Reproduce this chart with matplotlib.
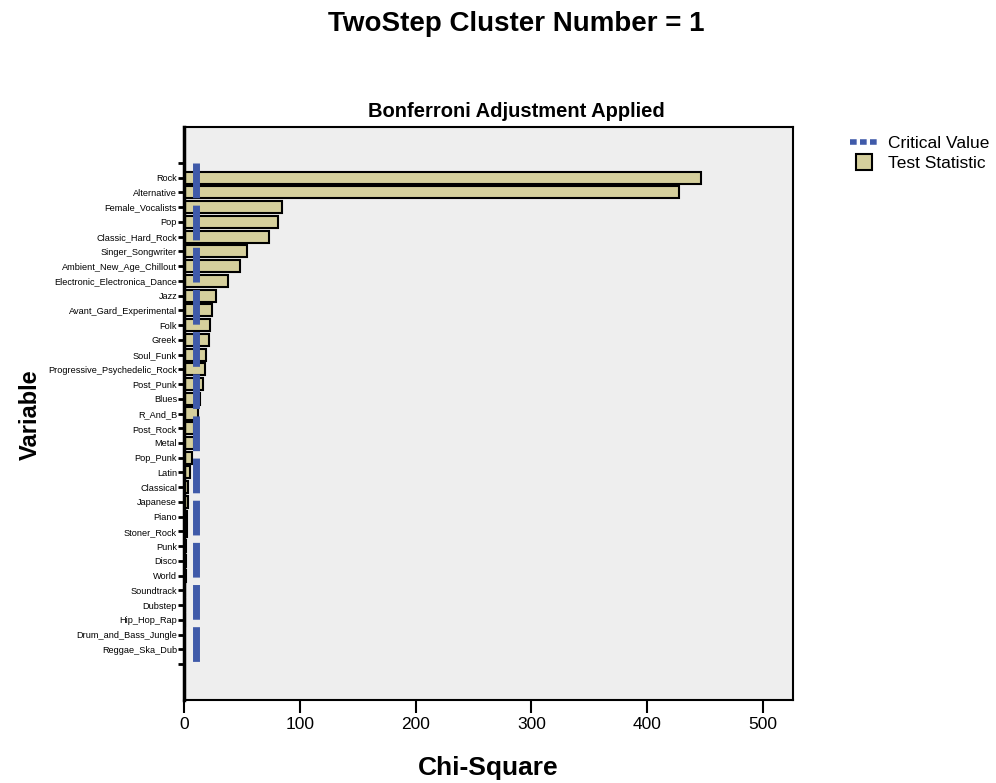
import numpy as np
import matplotlib
matplotlib.use('Agg')
import matplotlib.pyplot as plt
from matplotlib.lines import Line2D

plt.rcParams['font.family'] = ['Liberation Sans', 'DejaVu Sans']

variables = ['Rock', 'Alternative', 'Female_Vocalists', 'Pop', 'Classic_Hard_Rock',
             'Singer_Songwriter', 'Ambient_New_Age_Chillout', 'Electronic_Electronica_Dance',
             'Jazz', 'Avant_Gard_Experimental', 'Folk', 'Greek', 'Soul_Funk',
             'Progressive_Psychedelic_Rock', 'Post_Punk', 'Blues', 'R_And_B', 'Post_Rock',
             'Metal', 'Pop_Punk', 'Latin', 'Classical', 'Japanese', 'Piano', 'Stoner_Rock',
             'Punk', 'Disco', 'World', 'Soundtrack', 'Dubstep', 'Hip_Hop_Rap',
             'Drum_and_Bass_Jungle', 'Reggae_Ska_Dub']
chi_square = [446.5, 427.5, 85.0, 81.5, 73.2, 54.8, 48.5, 37.9, 28.1, 23.8, 22.3, 21.7,
              19.0, 18.6, 16.8, 13.5, 12.0, 9.0, 8.8, 6.7, 5.0, 3.8, 3.2, 2.9, 2.3,
              2.1, 1.7, 1.6, 1.1, 1.1, 0.9, 0.3, 0.2]
critical_value = 10.4

bar_color = '#D5CF9C'
line_color = '#3F5AA9'
bg_color = '#EEEEEE'

fig = plt.figure(figsize=(9.96, 7.83), dpi=100)
ax = fig.add_axes([0.1847, 0.106, 0.6115, 0.7318])
ax.set_facecolor(bg_color)

n = len(variables)
pos = np.arange(1, n + 1)
ax.barh(pos, chi_square, height=0.82, color=bar_color, edgecolor='black',
        linewidth=1.5, zorder=2)
ax.vlines(critical_value, 0, n + 1, colors=line_color, linewidth=5.0,
          linestyles=(0, (5.0, 1.07)), capstyle='butt', zorder=3)

ax.set_xlim(0, 526)
ax.set_ylim(n + 1 + 2.44, -2.44)
ax.set_yticks(np.arange(0, n + 2))
ax.set_yticklabels([''] + variables + [''], fontsize=6.6)
ax.set_xticks([0, 100, 200, 300, 400, 500])
ax.tick_params(axis='x', labelsize=12.5, length=9, width=1.5, direction='out', pad=3)
ax.tick_params(axis='y', length=4, width=2, direction='out', pad=1)
for side in ['top', 'right', 'bottom']:
    ax.spines[side].set_linewidth(1.5)
ax.spines['left'].set_linewidth(2.5)

fig.text(0.518, 0.857, 'Bonferroni Adjustment Applied', ha='center', va='center',
         fontsize=14.5, fontweight='bold')
fig.text(0.518, 0.969, 'TwoStep Cluster Number = 1', ha='center', va='center',
         fontsize=20, fontweight='bold')
fig.text(0.03, 0.471, 'Variable', ha='center', va='center', rotation=90,
         fontsize=17, fontweight='bold')
fig.text(0.49, 0.019, 'Chi-Square', ha='center', va='center',
         fontsize=19, fontweight='bold')

handles = [Line2D([0], [0], color=line_color, linewidth=4, linestyle=(0, (1.2, 0.6))),
           Line2D([0], [0], marker='s', markersize=12, markerfacecolor=bar_color,
                  markeredgecolor='black', markeredgewidth=1.5, linestyle='none')]
fig.legend(handles, ['Critical Value', 'Test Statistic'], loc='upper left',
           bbox_to_anchor=(0.838, 0.847), frameon=False, fontsize=12.5,
           handlelength=1.6, handletextpad=0.6, labelspacing=0.3)

fig.savefig('out.png', dpi=100)
